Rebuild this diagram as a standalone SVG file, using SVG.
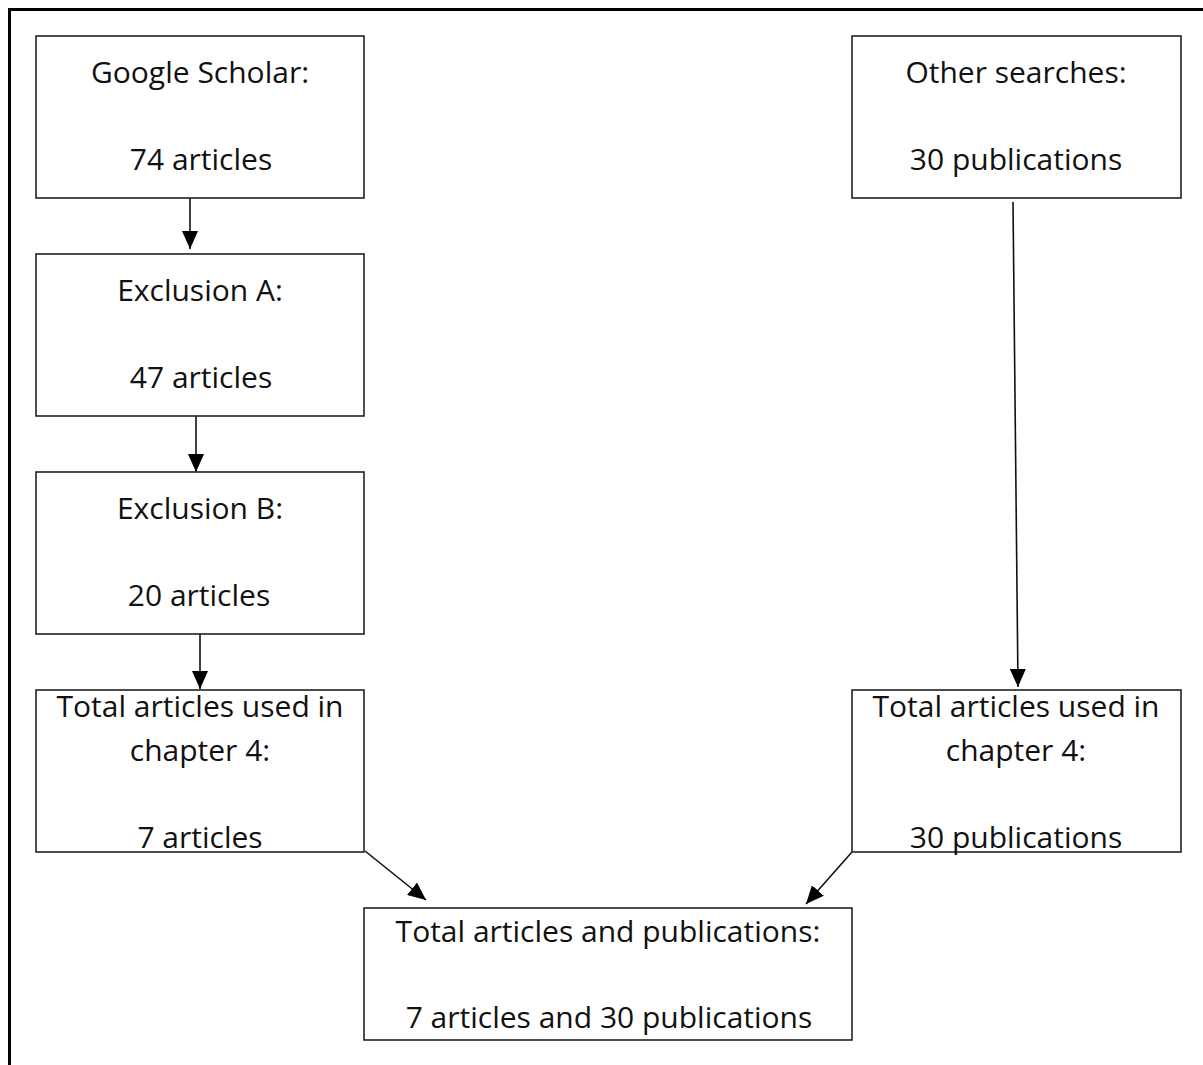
<svg xmlns="http://www.w3.org/2000/svg" width="1203" height="1065" viewBox="0 0 1203 1065">
  <style>
    .box { fill: #ffffff; stroke: #222222; stroke-width: 1.6; }
    .lbl { font-family: "Open Sans", "Liberation Sans", sans-serif; font-size: 30px; fill: #111111; text-anchor: middle; }
    .link { fill: none; stroke: #111111; stroke-width: 1.6; marker-end: url(#head); }
  </style>
  <defs>
    <marker id="head" viewBox="0 0 18 16" refX="18" refY="8" markerWidth="18" markerHeight="16" markerUnits="userSpaceOnUse" orient="auto">
      <path d="M0,0 L18,8 L0,16 z" fill="#000000"/>
    </marker>
  </defs>

  <rect width="1203" height="1065" fill="#ffffff"/>
  <!-- page frame, open on the right and bottom -->
  <rect x="9.5" y="9.5" width="1260" height="1120" fill="none" stroke="#000000" stroke-width="3"/>

  <g id="connectors">
    <line class="link" x1="190" y1="198" x2="190" y2="249"/>
    <line class="link" x1="196" y1="416" x2="196" y2="472"/>
    <line class="link" x1="200" y1="634" x2="200" y2="689"/>
    <line class="link" x1="1013" y1="202" x2="1018" y2="687"/>
    <line class="link" x1="365" y1="851" x2="426" y2="900"/>
    <line class="link" x1="852" y1="852" x2="806" y2="904"/>
  </g>

  <g id="google-scholar">
    <rect class="box" x="36" y="36" width="328" height="162"/>
    <text class="lbl" x="200" y="83">Google Scholar:</text>
    <text class="lbl" x="201" y="170">74 articles</text>
  </g>

  <g id="exclusion-a">
    <rect class="box" x="36" y="254" width="328" height="162"/>
    <text class="lbl" x="200" y="301">Exclusion A:</text>
    <text class="lbl" x="201" y="388">47 articles</text>
  </g>

  <g id="exclusion-b">
    <rect class="box" x="36" y="472" width="328" height="162"/>
    <text class="lbl" x="200" y="519">Exclusion B:</text>
    <text class="lbl" x="199" y="606">20 articles</text>
  </g>

  <g id="total-left">
    <rect class="box" x="36" y="690" width="328" height="162"/>
    <text class="lbl" x="200" y="717">Total articles used in</text>
    <text class="lbl" x="200" y="761">chapter 4:</text>
    <text class="lbl" x="200" y="848">7 articles</text>
  </g>

  <g id="other-searches">
    <rect class="box" x="852" y="36" width="329" height="162"/>
    <text class="lbl" x="1016" y="83">Other searches:</text>
    <text class="lbl" x="1016" y="170">30 publications</text>
  </g>

  <g id="total-right">
    <rect class="box" x="852" y="690" width="329" height="162"/>
    <text class="lbl" x="1016" y="717">Total articles used in</text>
    <text class="lbl" x="1016" y="761">chapter 4:</text>
    <text class="lbl" x="1016" y="848">30 publications</text>
  </g>

  <g id="grand-total">
    <rect class="box" x="364" y="908" width="488" height="132"/>
    <text class="lbl" x="608" y="942">Total articles and publications:</text>
    <text class="lbl" x="609" y="1028">7 articles and 30 publications</text>
  </g>
</svg>
